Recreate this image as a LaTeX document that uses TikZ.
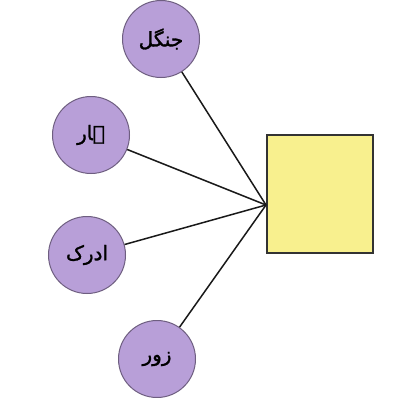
\documentclass[tikz,border=0pt]{standalone}
\usepackage{fontspec}
\newfontfamily\arabicfont[Script=Arabic,FakeBold=1.5]{DejaVu Sans}
\TeXXeTstate=1
\definecolor{lav}{HTML}{B89FD8}
\definecolor{lavline}{HTML}{6E5E80}
\definecolor{boxyel}{HTML}{F8F08E}
\begin{document}
\begin{tikzpicture}[x=1pt,y=-1pt,
  word/.style={circle,draw=lavline,line width=1pt,fill=lav,minimum size=77pt,inner sep=0pt,font=\arabicfont\fontsize{20}{24}\selectfont},
  link/.style={draw=black!90,line width=1.5pt}]
\useasboundingbox (0,0) rectangle (415,397);
\node[word] (w1) at (161,39) {\beginR جنگل\endR};
\node[word] (w2) at (91,135) {\beginR ہار\endR};
\node[word] (w3) at (87,255) {\beginR ادرک\endR};
\node[word] (w4) at (157,359) {\beginR زور\endR};
\node[draw=black!80,line width=1.2pt,fill=boxyel,minimum width=106pt,minimum height=118pt,inner sep=0pt] (box) at (320,194) {};
\coordinate (hub) at (266,205);
\foreach \w in {w1,w2,w3,w4} \draw[link] (\w) -- (hub);
\end{tikzpicture}
\end{document}
